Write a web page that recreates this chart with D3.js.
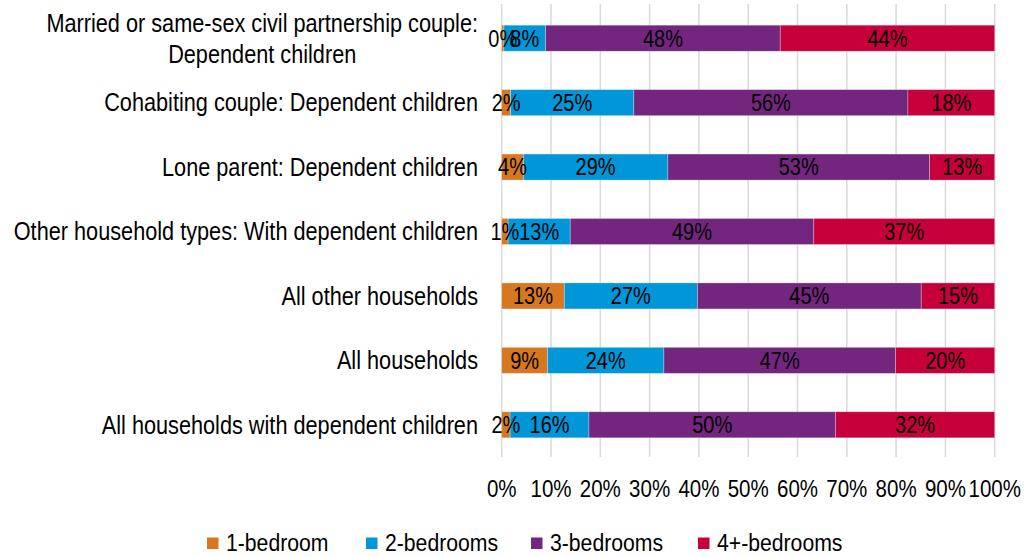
<!DOCTYPE html>
<html><head><meta charset="utf-8">
<script src="https://cdn.jsdelivr.net/npm/d3@7"></script>
<style>
html,body{margin:0;padding:0;background:#fff;}
svg{display:block;font-family:"Liberation Sans",Arial,sans-serif;}
</style></head>
<body>
<svg id="chart" width="1030" height="557"></svg>
<script>
const categories = [
  "Married or same-sex civil partnership couple: Dependent children",
  "Cohabiting couple: Dependent children",
  "Lone parent: Dependent children",
  "Other household types: With dependent children",
  "All other households",
  "All households",
  "All households with dependent children"
];
const seriesNames = ["1-bedroom", "2-bedrooms", "3-bedrooms", "4+-bedrooms"];
const oneBed   = [0.45, 1.8, 4.4, 1.3, 12.7, 9.3, 1.7];
const twoBed   = [8.45, 25.0, 29.3, 12.6, 27.0, 23.6, 16.0];
const threeBed = [47.6, 55.6, 53.1, 49.4, 45.4, 47.0, 50.0];
const fourBed  = [43.5, 17.6, 13.2, 36.7, 14.9, 20.1, 32.3];
const tickLabels = ["0%","10%","20%","30%","40%","50%","60%","70%","80%","90%","100%"];
const colors = ["#D7771F", "#0096D8", "#72267E", "#C5003B"];

const svg = d3.select("#chart");
const x = d3.scaleLinear().domain([0, 100]).range([501.7, 994.7]);
const y = d3.scaleBand().domain(categories).range([6, 457]).paddingInner(0.596).paddingOuter(0.298);

// stretched text helper
function stext(g, px, py, str, size, sy, anchor) {
  return g.append("text")
    .attr("transform", `translate(${px},${py}) scale(1,${sy})`)
    .attr("x", 0).attr("y", 0).attr("dy", "0.35em")
    .attr("text-anchor", anchor).attr("font-size", size).attr("fill", "#000")
    .text(str);
}

// gridlines
svg.append("g").selectAll("line").data(d3.range(0, 101, 10)).join("line")
  .attr("x1", d => x(d)).attr("x2", d => x(d))
  .attr("y1", 4).attr("y2", 457)
  .attr("stroke", "#D9D9D9").attr("stroke-width", 1.5);

const seriesVals = [oneBed, twoBed, threeBed, fourBed];
const rows = categories.map((c, i) => {
  const r = { cat: c };
  seriesNames.forEach((s, k) => r[s] = seriesVals[k][i]);
  return r;
});
const stack = d3.stack().keys(seriesNames)(rows);

const gBars = svg.append("g");
stack.forEach((layer, k) => {
  gBars.append("g").selectAll("rect").data(layer).join("rect")
    .attr("x", d => x(d[0]))
    .attr("width", d => x(d[1]) - x(d[0]))
    .attr("y", d => y(d.data.cat))
    .attr("height", y.bandwidth())
    .attr("fill", colors[k])
    .attr("stroke", "rgba(255,255,255,0.35)").attr("stroke-width", 0.8);
});
const gLab = svg.append("g");
stack.forEach((layer) => {
  layer.forEach(d => {
    stext(gLab, (x(d[0]) + x(d[1])) / 2, y(d.data.cat) + y.bandwidth() / 2,
      Math.round(d[1] - d[0]) + "%", 20, 1.2, "middle");
  });
});

// category labels
const gCat = svg.append("g");
categories.forEach((c, i) => {
  const cy = y(c) + y.bandwidth() / 2;
  if (i === 0) {
    const l1 = "Married or same-sex civil partnership couple:";
    const l2 = "Dependent children";
    const t1 = stext(gCat, 478, cy - 14.5, l1, 21.7, 1.15, "end");
    const w = t1.node().getComputedTextLength();
    stext(gCat, 478 - w / 2, cy + 16, l2, 21.7, 1.15, "middle");
  } else {
    stext(gCat, 478, cy, c, 21.7, 1.15, "end");
  }
});

// x axis tick labels
const gTick = svg.append("g");
tickLabels.forEach((t, i) => stext(gTick, x(i * 10), 489, t, 20.5, 1.14, "middle"));

// legend
const legendX = [207, 366, 531, 698];
const lg = svg.append("g");
seriesNames.forEach((s, k) => {
  lg.append("rect").attr("x", legendX[k]).attr("y", 537.5).attr("width", 11.5).attr("height", 11.5).attr("fill", colors[k]);
  stext(lg, legendX[k] + 19, 542.5, s, 21.2, 1.14, "start");
});
</script>
</body></html>
